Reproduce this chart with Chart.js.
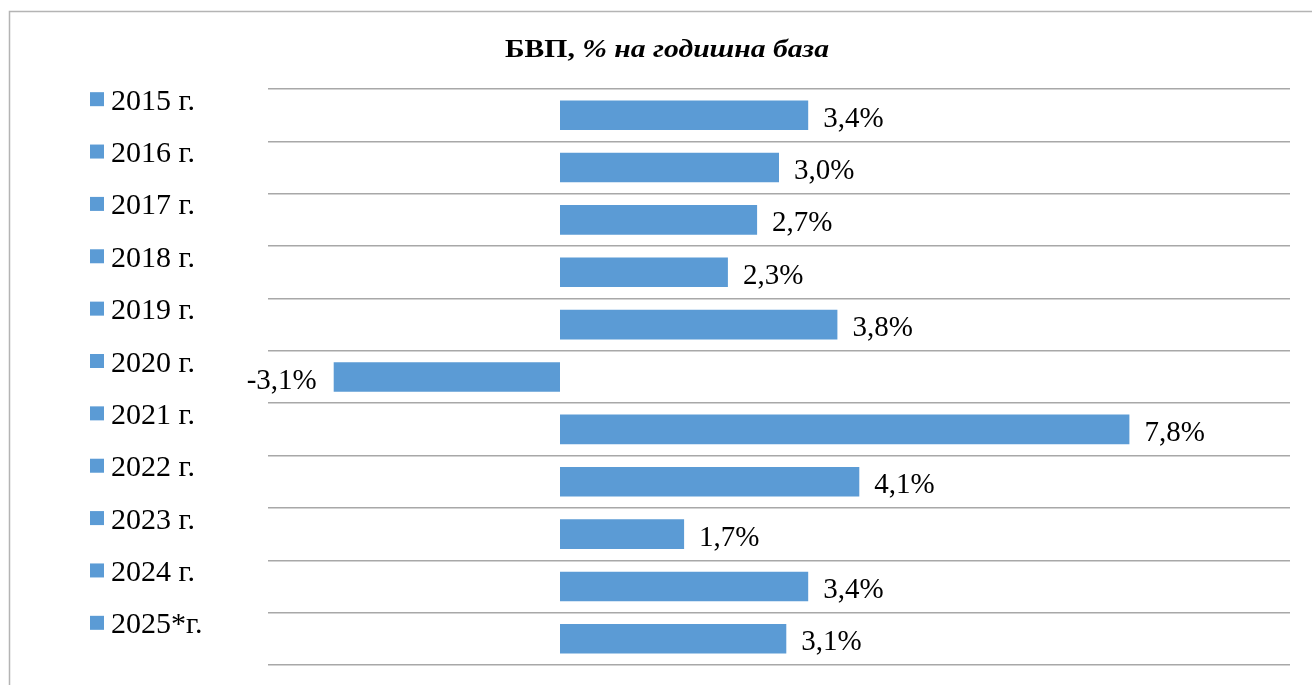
<!DOCTYPE html>
<html>
<head>
<meta charset="utf-8">
<script src="https://cdn.jsdelivr.net/npm/chart.js@4"></script>
<style>
  html, body { margin: 0; padding: 0; background: #fff; overflow: hidden; }
  #wrap { position: relative; width: 1312px; height: 685px; }
</style>
</head>
<body>
<div id="wrap"><canvas id="chart"></canvas></div>
<script>
const years = ['2015 г.', '2016 г.', '2017 г.', '2018 г.', '2019 г.', '2020 г.', '2021 г.', '2022 г.', '2023 г.', '2024 г.', '2025*г.']
const gdpGrowth = [3.4, 3.0, 2.7, 2.3, 3.8, -3.1, 7.8, 4.1, 1.7, 3.4, 3.1]
const titleBold = 'БВП, '
const titleItalic = '% на годишна база'

const blue = '#5b9bd5'
const serif = '"Liberation Serif", "Times New Roman", serif'

// cadre gris en haut et à gauche
const framePlugin = {
    id: 'frame',
    beforeDraw(chart) {
        const ctx = chart.ctx
        ctx.save()
        ctx.strokeStyle = '#b4b4b4'
        ctx.lineWidth = 1.5
        ctx.beginPath()
        ctx.moveTo(chart.width, 11.5)
        ctx.lineTo(9.5, 11.5)
        ctx.lineTo(9.5, chart.height)
        ctx.stroke()
        ctx.restore()
    }
}

// titre : partie grasse + partie grasse italique (un peu étiré en largeur comme l'original)
const titlePlugin = {
    id: 'mixedTitle',
    afterDraw(chart) {
        const ctx = chart.ctx
        ctx.save()
        ctx.fillStyle = '#000'
        ctx.textBaseline = 'alphabetic'
        const f1 = 'bold 25px ' + serif
        const f2 = 'italic bold 25px ' + serif
        ctx.font = f1
        const w1 = ctx.measureText(titleBold).width
        ctx.font = f2
        const w2 = ctx.measureText(titleItalic).width
        const targetW = 324
        const sx = targetW / (w1 + w2)
        ctx.translate(667 - targetW / 2, 57)
        ctx.scale(sx, 1)
        ctx.font = f1
        ctx.fillText(titleBold, 0, 0)
        ctx.font = f2
        ctx.fillText(titleItalic, w1, 0)
        ctx.restore()
    }
}

// légende à gauche, une entrée par année
const sideLegendPlugin = {
    id: 'sideLegend',
    afterDraw(chart) {
        const ctx = chart.ctx
        const yScale = chart.scales.y
        ctx.save()
        ctx.font = '30px ' + serif
        ctx.textBaseline = 'alphabetic'
        years.forEach((label, i) => {
            const cy = yScale.getPixelForValue(i)
            ctx.fillStyle = blue
            ctx.fillRect(90, cy - 23, 14, 14)
            ctx.fillStyle = '#000'
            ctx.fillText(label, 111, cy - 5.5)
        })
        ctx.restore()
    }
}

// étiquettes de valeurs au bout des barres
const valueLabelsPlugin = {
    id: 'valueLabels',
    afterDatasetsDraw(chart) {
        const ctx = chart.ctx
        const meta = chart.getDatasetMeta(0)
        ctx.save()
        ctx.font = '29px ' + serif
        ctx.fillStyle = '#000'
        ctx.textBaseline = 'alphabetic'
        meta.data.forEach((bar, i) => {
            const v = gdpGrowth[i]
            const txt = v.toFixed(1).replace('.', ',') + '%'
            if (v >= 0) {
                ctx.textAlign = 'left'
                ctx.fillText(txt, bar.x + 15, bar.y + 11.5)
            } else {
                ctx.textAlign = 'right'
                ctx.fillText(txt, bar.x - 17, bar.y + 11.5)
            }
        })
        ctx.restore()
    }
}

const config = {
    type: 'bar',
    data: {
        labels: years,
        datasets: [{
            label: 'БВП',
            data: gdpGrowth,
            backgroundColor: blue,
            borderWidth: 0,
            barPercentage: 0.565,
            categoryPercentage: 1
        }]
    },
    options: {
        indexAxis: 'y',
        responsive: true,
        maintainAspectRatio: false,
        animation: false,
        layout: { padding: { left: 268, right: 22, top: 89, bottom: 20 } },
        plugins: {
            legend: { display: false },
            title: { display: false },
            tooltip: { enabled: false }
        },
        scales: {
            x: { display: false, min: -4, max: 10 },
            y: {
                grid: { offset: true, color: '#a8a8a8', lineWidth: 1.5, drawTicks: false },
                border: { display: false },
                ticks: { display: false }
            }
        }
    },
    plugins: [framePlugin, titlePlugin, sideLegendPlugin, valueLabelsPlugin]
}

new Chart(document.getElementById('chart'), config)
</script>
</body>
</html>
